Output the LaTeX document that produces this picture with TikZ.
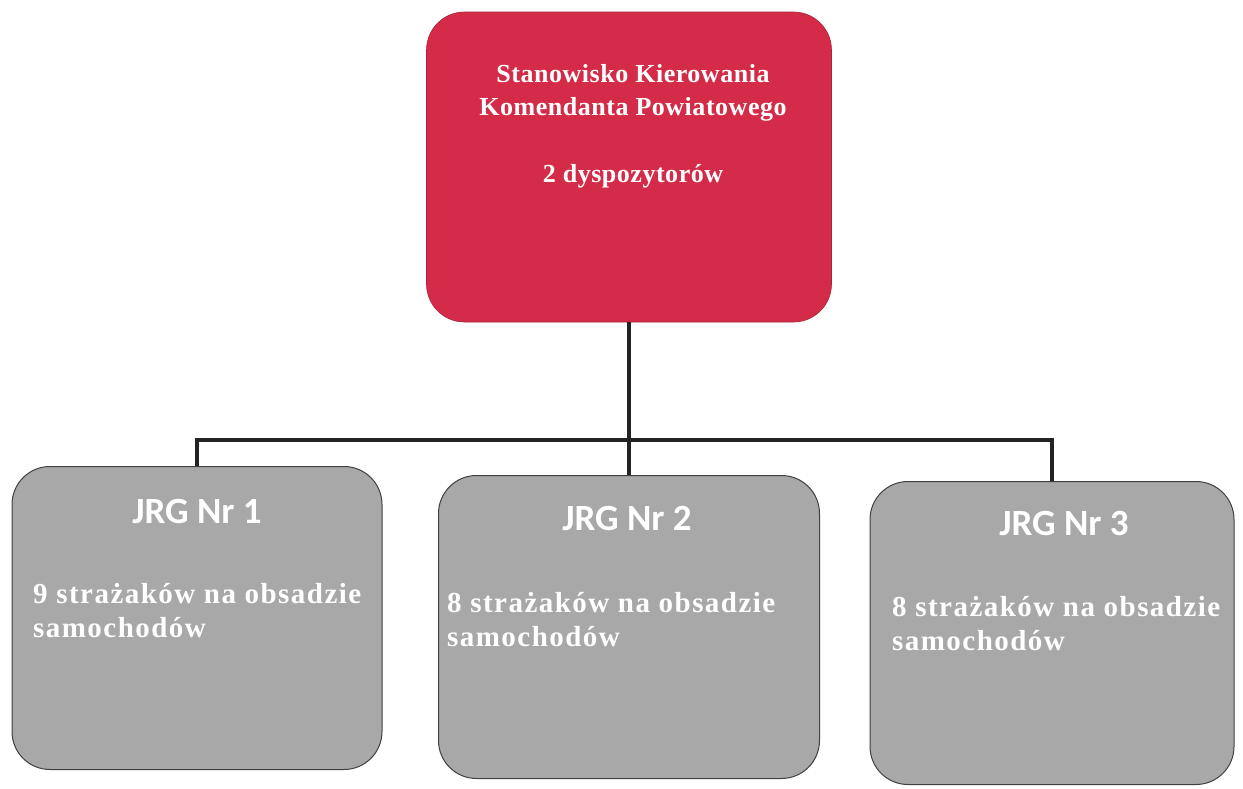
\documentclass[tikz,border=0pt]{standalone}
\usepackage{fontspec}
\setmainfont{Liberation Serif}
\newfontfamily\calib{Carlito}
\newfontfamily\topserif[LetterSpace=2]{Liberation Serif}
\newfontfamily\bodyserif[LetterSpace=5]{Liberation Serif}
\definecolor{topred}{RGB}{212,44,72}
\definecolor{boxgray}{RGB}{168,168,168}
\definecolor{linedark}{RGB}{35,35,35}
\begin{document}
\begin{tikzpicture}[x=1pt,y=-1pt,
  redbox/.style={rectangle,rounded corners=38pt,fill=topred,draw=topred!80!black,line width=0.6pt,inner sep=0pt},
  graybox/.style={rectangle,rounded corners=38pt,fill=boxgray,draw=black!75,line width=1pt,inner sep=0pt},
  toptext/.style={text=white,font=\topserif\bfseries\fontsize{26}{33}\selectfont,align=center,inner sep=0pt},
  headtext/.style={text=white,font=\calib\bfseries\fontsize{37}{40}\selectfont,inner sep=0pt,anchor=base},
  bodytext/.style={text=white,font=\bodyserif\bfseries\fontsize{29}{34}\selectfont,align=left,inner sep=0pt,anchor=base west},
  conn/.style={draw=linedark,line width=4.5pt}]
\useasboundingbox (0,0) rectangle (1243,788);
\fill[white] (0,0) rectangle (1243,788);
% boxes
\node[redbox,minimum width=405pt,minimum height=310pt] (top) at (629,167) {};
\node[graybox,minimum width=370pt,minimum height=303pt] (b1) at (197,618) {};
\node[graybox,minimum width=381pt,minimum height=303pt] (b2) at (629,627) {};
\node[graybox,minimum width=364pt,minimum height=303pt] (b3) at (1052,633) {};
% connectors
\coordinate (hub) at (629,440);
\draw[conn] (top.south) -- (b2.north);
\draw[conn] (b1.north) |- (hub) -| (b3.north);
% top texts
\node[toptext,anchor=base] (t1) at (633,82) {Stanowisko Kierowania};
\node[toptext,anchor=base] (t2) at (633,115) {Komendanta Powiatowego};
\node[toptext,anchor=base] (t3) at (633,182) {2 dyspozytorów};
% box texts
\node[headtext] (h1) at (197,523) {JRG Nr 1};
\node[bodytext] (s1a) at (33,603) {9 strażaków na obsadzie};
\node[bodytext] (s1b) at (33,637) {samochodów};
\node[headtext] (h2) at (627,530) {JRG Nr 2};
\node[bodytext] (s2a) at (447,612) {8 strażaków na obsadzie};
\node[bodytext] (s2b) at (447,646) {samochodów};
\node[headtext] (h3) at (1064,535) {JRG Nr 3};
\node[bodytext] (s3a) at (892,616) {8 strażaków na obsadzie};
\node[bodytext] (s3b) at (892,650) {samochodów};
\end{tikzpicture}
\end{document}
